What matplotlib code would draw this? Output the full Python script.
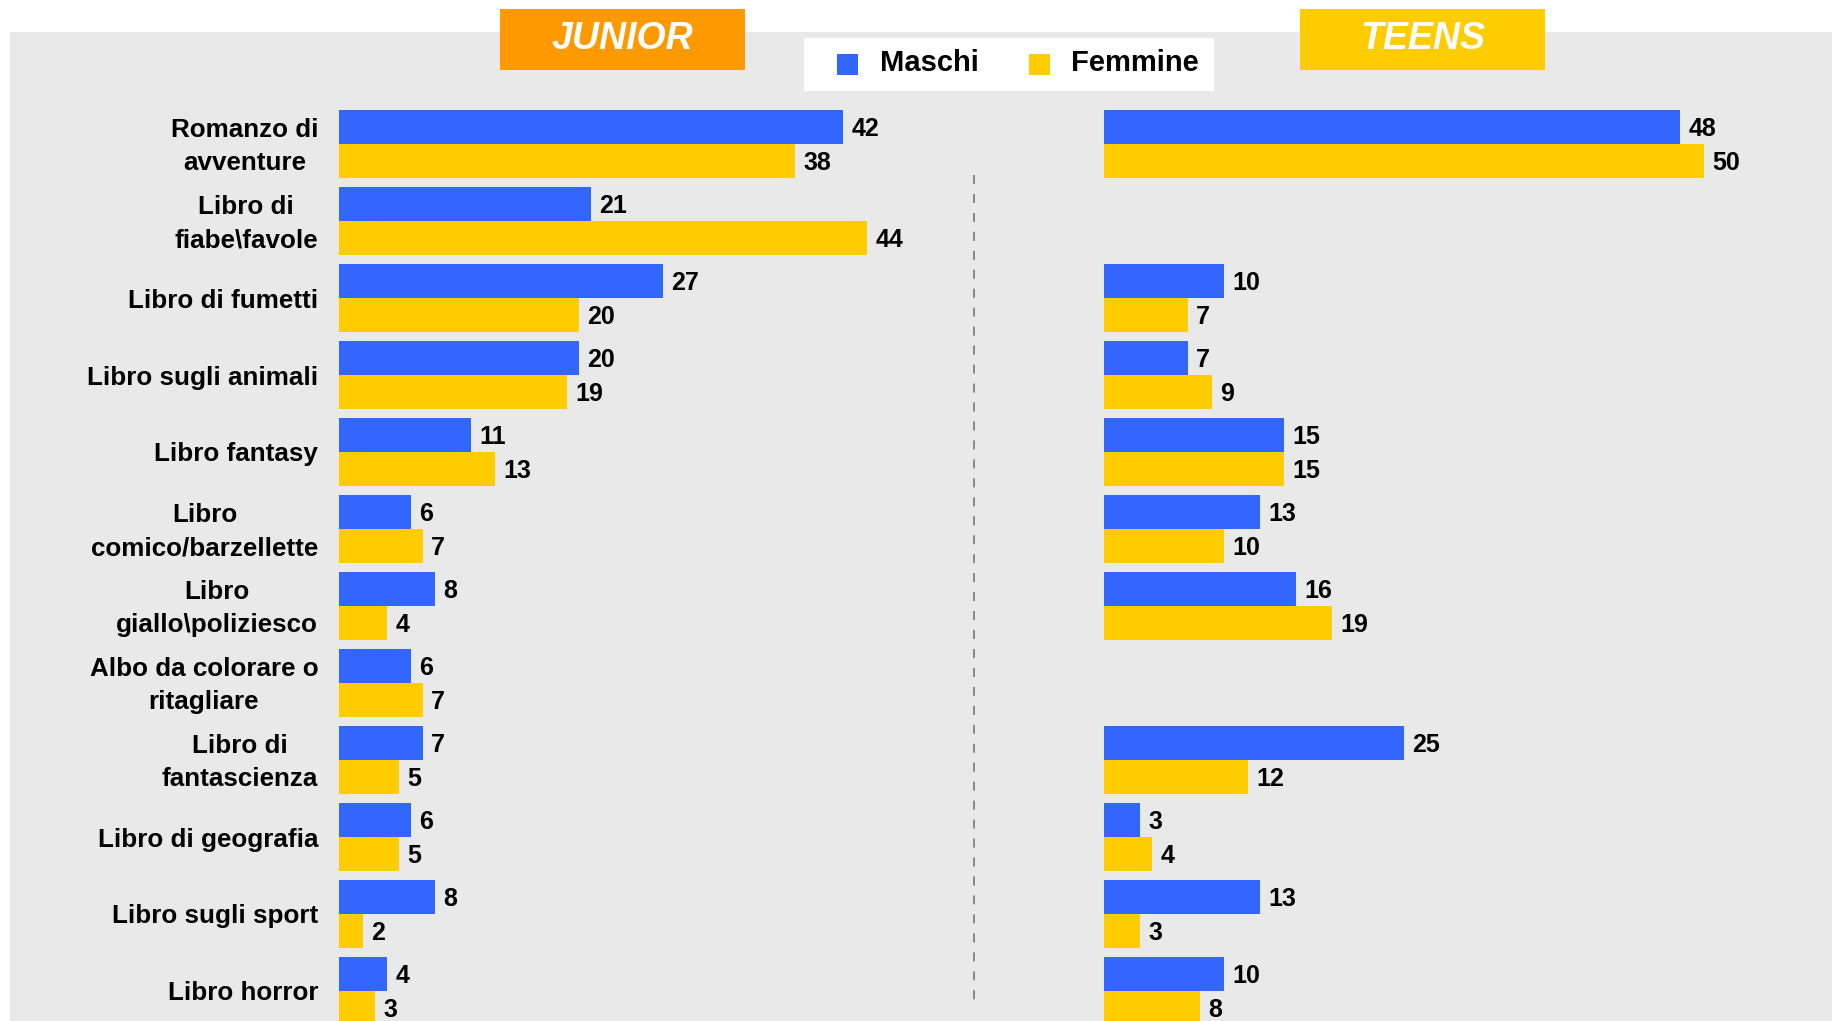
import matplotlib
matplotlib.use('Agg')
import matplotlib.pyplot as plt
from matplotlib.patches import Rectangle
from matplotlib.lines import Line2D
import numpy as np

plt.rcParams['font.family'] = ['Liberation Sans', 'DejaVu Sans']

categories = [
    "Romanzo di\navventure",
    "Libro di\nfiabe\\favole",
    "Libro di fumetti",
    "Libro sugli animali",
    "Libro fantasy",
    "Libro\ncomico/barzellette",
    "Libro\ngiallo\\poliziesco",
    "Albo da colorare o\nritagliare",
    "Libro di\nfantascienza",
    "Libro di geografia",
    "Libro sugli sport",
    "Libro horror",
]
junior_maschi = [42, 21, 27, 20, 11, 6, 8, 6, 7, 6, 8, 4]
junior_femmine = [38, 44, 20, 19, 13, 7, 4, 7, 5, 5, 2, 3]
teens_maschi = [48, None, 10, 7, 15, 13, 16, None, 25, 3, 13, 10]
teens_femmine = [50, None, 7, 9, 15, 10, 19, None, 12, 4, 3, 8]
series_names = ["Maschi", "Femmine"]
panel_titles = ["JUNIOR", "TEENS"]

BLUE = '#3366FF'
YELLOW = '#FFCC00'
ORANGE = '#FF9900'
BG = '#E9E9E9'

W, H = 1832, 1021
fig = plt.figure(figsize=(W / 100, H / 100), dpi=100)
fig.patch.set_facecolor('white')


def fx(px):
    return px / W


def fy(py):
    return 1 - py / H


# gray background panel
fig.patches.append(Rectangle((fx(10), 0), 1 - fx(10), fy(32), transform=fig.transFigure,
                             facecolor=BG, edgecolor='none', zorder=-5))

PXU = 12.0  # pixels per unit
row_px = 77.0
top_px = 100
first_center = 144
last_center = first_center + row_px * 11
ylim_top = -(first_center - top_px) / row_px
ylim_bot = 11 + (H - last_center) / row_px

axL = fig.add_axes([fx(339), 0, fx(974) - fx(339), fy(top_px)])
axR = fig.add_axes([fx(1104), 0, 1 - fx(1104), fy(top_px)])
axL.set_xlim(0, (974 - 339) / PXU)
axR.set_xlim(0, (W - 1104) / PXU)

ypos = np.arange(len(categories))
bh = 34 / row_px

for ax, m_vals, f_vals in [(axL, junior_maschi, junior_femmine), (axR, teens_maschi, teens_femmine)]:
    ax.set_facecolor('none')
    ax.set_ylim(ylim_bot, ylim_top)
    for s in ax.spines.values():
        s.set_visible(False)
    ax.set_xticks([])
    ax.set_yticks([])
    for vals, off, col in [(m_vals, -bh / 2, BLUE), (f_vals, bh / 2, YELLOW)]:
        ys = [y + off for y, v in zip(ypos, vals) if v is not None]
        vs = [v for v in vals if v is not None]
        ax.barh(ys, vs, height=bh, color=col, zorder=2)
        for y, v in zip(ys, vs):
            ax.annotate(str(v), (v, y), xytext=(6, -1.5), textcoords='offset points',
                        ha='left', va='center', fontsize=18, fontweight='bold', color='black',
                        annotation_clip=False)

# category labels
for y, cat in zip(ypos, categories):
    dy = 3.5 if '\n' in cat else 0
    axL.annotate(cat, xy=(0, y), xycoords=('axes fraction', 'data'), xytext=(-15, dy),
                 textcoords='offset points', ha='right', va='center_baseline',
                 multialignment='center', linespacing=1.5, fontsize=18.7,
                 fontweight='bold', color='black', annotation_clip=False)

# dashed separator
fig.lines.append(Line2D([fx(974), fx(974)], [fy(175), fy(1007)], transform=fig.transFigure,
                        color='#808080', lw=1.3, linestyle=(0, (5, 5.5))))

# panel header boxes
for (x0, x1), title, col in [((500, 745), panel_titles[0], ORANGE), ((1300, 1545), panel_titles[1], YELLOW)]:
    fig.patches.append(Rectangle((fx(x0), fy(70)), fx(x1) - fx(x0), fy(9) - fy(70),
                                 transform=fig.transFigure, facecolor=col, edgecolor='none', zorder=3))
    fig.text(fx((x0 + x1) / 2), fy(39), title, ha='center', va='center', fontsize=27,
             fontweight='bold', fontstyle='italic', color='white', zorder=4)

# legend
fig.patches.append(Rectangle((fx(804), fy(91)), fx(1214) - fx(804), fy(38) - fy(91),
                             transform=fig.transFigure, facecolor='white', edgecolor='none', zorder=3))
for (sx, tx), name, col in [((837, 880), series_names[0], BLUE), ((1029, 1071), series_names[1], YELLOW)]:
    fig.patches.append(Rectangle((fx(sx), fy(75)), fx(sx + 21) - fx(sx), fy(54) - fy(75),
                                 transform=fig.transFigure, facecolor=col, edgecolor='none', zorder=4))
    fig.text(fx(tx), fy(63), name, ha='left', va='center', fontsize=21, fontweight='bold',
             color='black', zorder=4)

fig.savefig('out.png', dpi=100)
